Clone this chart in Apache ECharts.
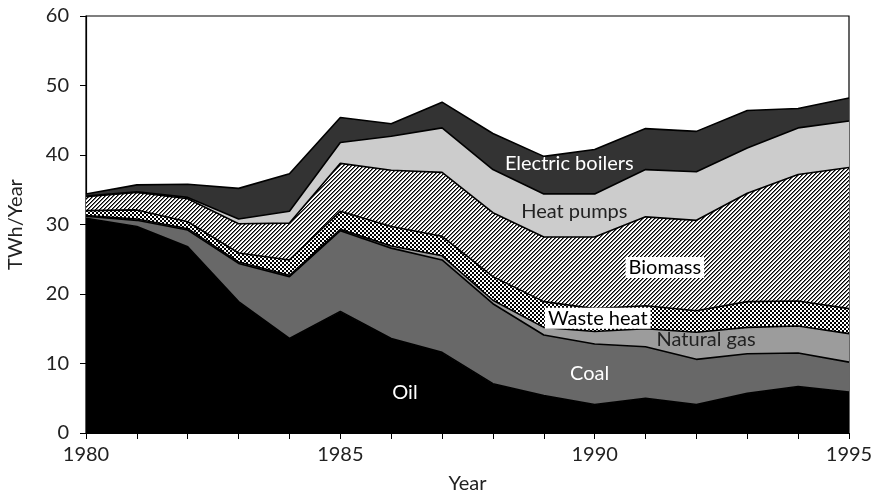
<!DOCTYPE html>
<html>
<head>
<meta charset="utf-8">
<script src="https://cdn.jsdelivr.net/npm/echarts@6.0.0/dist/echarts.min.js"></script>
<style>
  html, body { margin: 0; padding: 0; background: #fff; }
  #chart { width: 873px; height: 495px; }
</style>
</head>
<body>
<div id="chart"></div>
<script>
// years on the x axis
var years = ['1980', '1981', '1982', '1983', '1984', '1985', '1986', '1987',
             '1988', '1989', '1990', '1991', '1992', '1993', '1994', '1995'];

// heat supply by source, TWh/year (stacked, bottom to top)
var oil = [30.9, 29.7, 26.8, 18.9, 13.6, 17.5, 13.6, 11.6, 7.1, 5.4, 4.1, 5.0, 4.1, 5.7, 6.7, 5.9];
var coal = [0.3, 0.9, 2.4, 5.5, 8.9, 11.6, 13.0, 13.3, 11.5, 8.7, 8.7, 7.4, 6.5, 5.7, 4.8, 4.3];
var naturalGas = [0.1, 0.2, 0.2, 0.2, 0.2, 0.2, 0.3, 0.6, 0.5, 1.1, 1.8, 2.6, 3.9, 3.8, 3.9, 4.1];
var wasteHeat = [0.7, 1.3, 1.0, 1.3, 2.2, 2.6, 2.8, 2.8, 3.4, 3.7, 3.3, 3.3, 3.1, 3.7, 3.6, 3.6];
var biomass = [2.0, 2.5, 3.3, 4.2, 5.3, 6.9, 8.1, 9.2, 9.2, 9.3, 10.3, 12.8, 13.0, 15.6, 18.2, 20.3];
var heatPumps = [0.1, 0.1, 0.2, 0.7, 1.7, 3.0, 4.9, 6.4, 6.2, 6.2, 6.2, 6.8, 7.0, 6.5, 6.7, 6.7];
var electricBoilers = [0.3, 1.0, 1.9, 4.4, 5.4, 3.6, 1.8, 3.7, 5.2, 5.4, 6.4, 5.9, 5.8, 5.4, 2.8, 3.3];

var FONT = 'Lato, "DejaVu Sans", sans-serif';

// fill patterns
function makePattern(size, fn) {
  var c = document.createElement('canvas');
  c.width = size; c.height = size;
  var ctx = c.getContext('2d');
  var img = ctx.createImageData(size, size);
  for (var y = 0; y < size; y++) {
    for (var x = 0; x < size; x++) {
      var v = fn(x, y);
      var i = (y * size + x) * 4;
      img.data[i] = img.data[i + 1] = img.data[i + 2] = v;
      img.data[i + 3] = 255;
    }
  }
  ctx.putImageData(img, 0, 0);
  return { image: c, repeat: 'repeat' };
}

var hatch = makePattern(8, function (x, y) {
  var k = (x + y) % 4;
  return k === 0 ? 0 : (k === 1 ? 110 : 255);
});
var checker = makePattern(8, function (x, y) {
  return ((Math.floor(x / 2) + Math.floor(y / 2)) % 2) ? 255 : 0;
});

function layer(name, data, fill) {
  return {
    name: name,
    type: 'line',
    stack: 'total',
    data: data,
    symbol: 'none',
    smooth: false,
    lineStyle: { color: '#000', width: 1.6 },
    areaStyle: { color: fill, opacity: 1 },
    silent: true
  };
}

var chart = echarts.init(document.getElementById('chart'));

var option = {
  animation: false,
  backgroundColor: '#fff',
  grid: {
    left: 86, right: 24, top: 16, bottom: 62,
    outerBoundsMode: 'none',
    show: true, borderColor: '#000', borderWidth: 1.2, backgroundColor: 'transparent'
  },
  xAxis: {
    type: 'category',
    data: years,
    boundaryGap: false,
    name: 'Year',
    nameLocation: 'middle',
    nameGap: 41,
    nameTextStyle: { fontFamily: FONT, fontSize: 20, color: '#222' },
    axisLine: { show: true, lineStyle: { color: '#000', width: 1.2 } },
    axisTick: { show: true, interval: 0, length: 6, lineStyle: { color: '#000' } },
    axisLabel: { interval: 4, margin: 12, fontFamily: FONT, fontSize: 20, color: '#222' },
    splitLine: { show: false }
  },
  yAxis: {
    type: 'value',
    min: 0, max: 60, interval: 10,
    name: 'TWh/Year',
    nameLocation: 'middle',
    nameGap: 60,
    nameTextStyle: { fontFamily: FONT, fontSize: 20, color: '#222' },
    axisLine: { show: true, lineStyle: { color: '#000', width: 1.2 } },
    axisTick: { show: true, length: 6, lineStyle: { color: '#000' } },
    axisLabel: { margin: 17, fontFamily: FONT, fontSize: 20, color: '#222' },
    splitLine: { show: false }
  },
  series: [
    layer('Oil', oil, '#000000'),
    layer('Coal', coal, '#686868'),
    layer('Natural gas', naturalGas, '#9c9c9c'),
    layer('Waste heat', wasteHeat, checker),
    layer('Biomass', biomass, hatch),
    layer('Heat pumps', heatPumps, '#cccccc'),
    layer('Electric boilers', electricBoilers, '#333333')
  ]
};
chart.setOption(option);

// in-chart labels, placed in (year index, value) space
var labelSpots = [
  { text: 'Oil', at: [6.27, 5.8], color: '#fff' },
  { text: 'Coal', at: [9.9, 8.5], color: '#fff' },
  { text: 'Natural gas', at: [12.19, 13.4], color: '#222' },
  { text: 'Waste heat', at: [10.06, 16.5], color: '#000', box: true },
  { text: 'Biomass', at: [11.38, 23.8], color: '#000', box: true },
  { text: 'Heat pumps', at: [9.6, 31.9], color: '#222' },
  { text: 'Electric boilers', at: [9.5, 38.7], color: '#fff' }
];

// category axis snaps to whole indices, so interpolate between neighbours
function toPixel(at) {
  var i0 = Math.floor(at[0]);
  var a = chart.convertToPixel({ gridIndex: 0 }, [i0, at[1]]);
  var b = chart.convertToPixel({ gridIndex: 0 }, [i0 + 1, at[1]]);
  var f = at[0] - i0;
  return [a[0] + (b[0] - a[0]) * f, a[1]];
}

chart.setOption({
  graphic: labelSpots.map(function (s) {
    var p = toPixel(s.at);
    return {
      type: 'text',
      x: p[0], y: p[1],
      z: 100,
      style: {
        text: s.text,
        fill: s.color,
        font: '20px ' + FONT,
        align: 'center',
        verticalAlign: 'middle',
        backgroundColor: s.box ? '#fff' : null,
        padding: s.box ? [1, 3, 0, 3] : 0
      }
    };
  })
});
</script>
</body>
</html>
